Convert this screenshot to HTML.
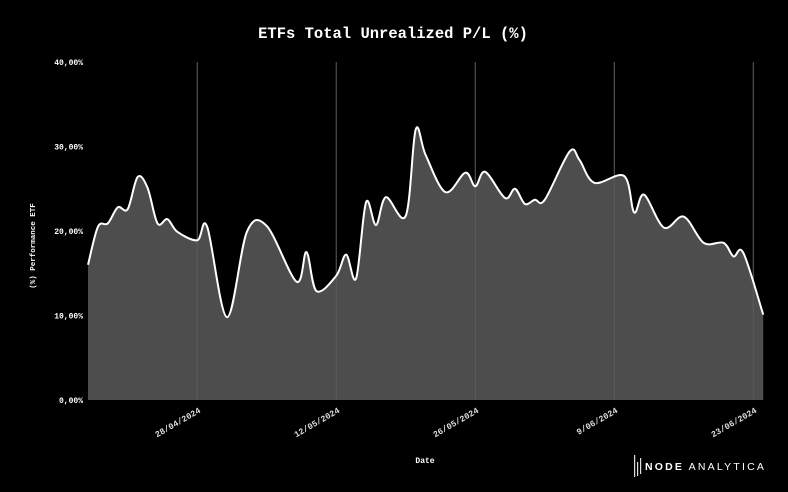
<!DOCTYPE html>
<html><head><meta charset="utf-8"><style>
html,body{margin:0;padding:0;background:#000;}
svg{display:block;}
</style></head><body>
<svg id="chart" width="788" height="492" xmlns="http://www.w3.org/2000/svg">
<rect width="788" height="492" fill="#000"/>
<text x="393" y="38" text-anchor="middle" fill="#fff" font-family="Liberation Mono, monospace" font-weight="bold" font-size="15.5">ETFs Total Unrealized P/L (%)</text>
<g id="grid"></g>
<g id="area"></g>
<g id="yaxis"></g>
<g id="xaxis"></g>
<text transform="translate(35,246) rotate(-90)" text-anchor="middle" fill="#fff" font-family="Liberation Mono, monospace" font-weight="bold" font-size="7.5">(%) Performance ETF</text>
<text x="425" y="463" text-anchor="middle" fill="#fff" font-family="Liberation Mono, monospace" font-weight="bold" font-size="8">Date</text>
<g>
<rect x="634" y="455" width="1.2" height="22" fill="#ddd"/>
<rect x="637" y="462" width="1.2" height="14" fill="#ddd"/>
<rect x="640" y="458" width="1.2" height="16" fill="#ddd"/>
<text x="645" y="470" fill="#fff" font-family="Liberation Sans, sans-serif" font-size="10.5" letter-spacing="2.2"><tspan font-weight="bold">NODE</tspan> ANALYTICA</text>
</g>
</svg>
<script>
// day offsets from 17/04/2024
const days = [0,1,2,3,4,5,6,7,8,9,11,12,14,16,18,21,22,23,25,26,27,28,29,30,32,33,34,36,38,39,40,42,43,44,45,46,48.5,49.5,51,54,55,56,58,60,62,64,65,66,68];
const values = [16.0,20.5,20.9,22.8,22.6,26.4,25.1,20.9,21.4,19.9,18.9,20.5,9.8,19.9,20.6,14.0,17.5,12.9,14.7,17.2,14.4,23.4,20.7,24.0,21.8,32.0,29.0,24.6,26.9,25.3,27.0,23.9,25.0,23.2,23.7,23.7,29.4,28.4,25.7,26.5,22.2,24.3,20.4,21.7,18.6,18.6,17.0,17.4,10.1];
const yTicks = [0,10,20,30,40];
const yTickLabels = ["0,00%","10,00%","20,00%","30,00%","40,00%"];
const xTickDays = [11,25,39,53,67];
const xTickLabels = ["28/04/2024","12/05/2024","26/05/2024","9/06/2024","23/06/2024"];

const NS="http://www.w3.org/2000/svg";
const X0=88, DAYPX=9.93, Y0=400, PCTPX=8.45;
const xs=d=>X0+d*DAYPX;
const ys=v=>Y0-v*PCTPX;
function mk(tag,attrs,parent){const e=document.createElementNS(NS,tag);for(const k in attrs)e.setAttribute(k,attrs[k]);parent.appendChild(e);return e;}

const grid=document.getElementById('grid');
xTickDays.forEach((d,i)=>{
  const l=mk('line',{x1:xs(d),x2:xs(d),y1:ys(40),y2:Y0,stroke:'#444','stroke-width':1},grid);
  
  
});

const pts=days.map((d,i)=>[xs(d),ys(values[i])]);
function curve(p){
  let s=`M${p[0][0]},${p[0][1]}`;
  for(let i=0;i<p.length-1;i++){
    const p0=p[i-1]||p[i],p1=p[i],p2=p[i+1],p3=p[i+2]||p2;
    const t=6;
    let c1y=p1[1]+(p2[1]-p0[1])/t, c2y=p2[1]-(p3[1]-p1[1])/t;
    s+=` C${p1[0]+(p2[0]-p0[0])/t},${c1y} ${p2[0]-(p3[0]-p1[0])/t},${c2y} ${p2[0]},${p2[1]}`;
  }
  return s;
}
const area=document.getElementById('area');
const line=curve(pts);
const fill=mk('path',{d:line+` L${pts[pts.length-1][0]},${Y0} L${pts[0][0]},${Y0} Z`,fill:'#4d4d4d'},area);


xTickDays.forEach(d=>{
  const l=mk('line',{x1:xs(d),x2:xs(d),y1:ys(40),y2:Y0,stroke:'#666','stroke-width':1,'stroke-opacity':0.6},area);
  
  
});
const ln=mk('path',{d:line,fill:'none',stroke:'#fff','stroke-width':2},area);



const ya=document.getElementById('yaxis');
yTicks.forEach((v,i)=>{
  const t=mk('text',{x:83,y:ys(v)+3,'text-anchor':'end',fill:'#fff','font-family':'Liberation Mono, monospace','font-weight':'bold','font-size':8},ya);
  t.textContent=yTickLabels[i];
  
  
});
const xa=document.getElementById('xaxis');
xTickDays.forEach((d,i)=>{
  const t=mk('text',{transform:`translate(${xs(d)+4},${Y0+12}) rotate(-30)`,'text-anchor':'end',fill:'#ddd','font-family':'Liberation Mono, monospace','font-weight':'bold','font-size':8.5},xa);
  t.textContent=xTickLabels[i];
  
  
});
</script>
</body></html>
